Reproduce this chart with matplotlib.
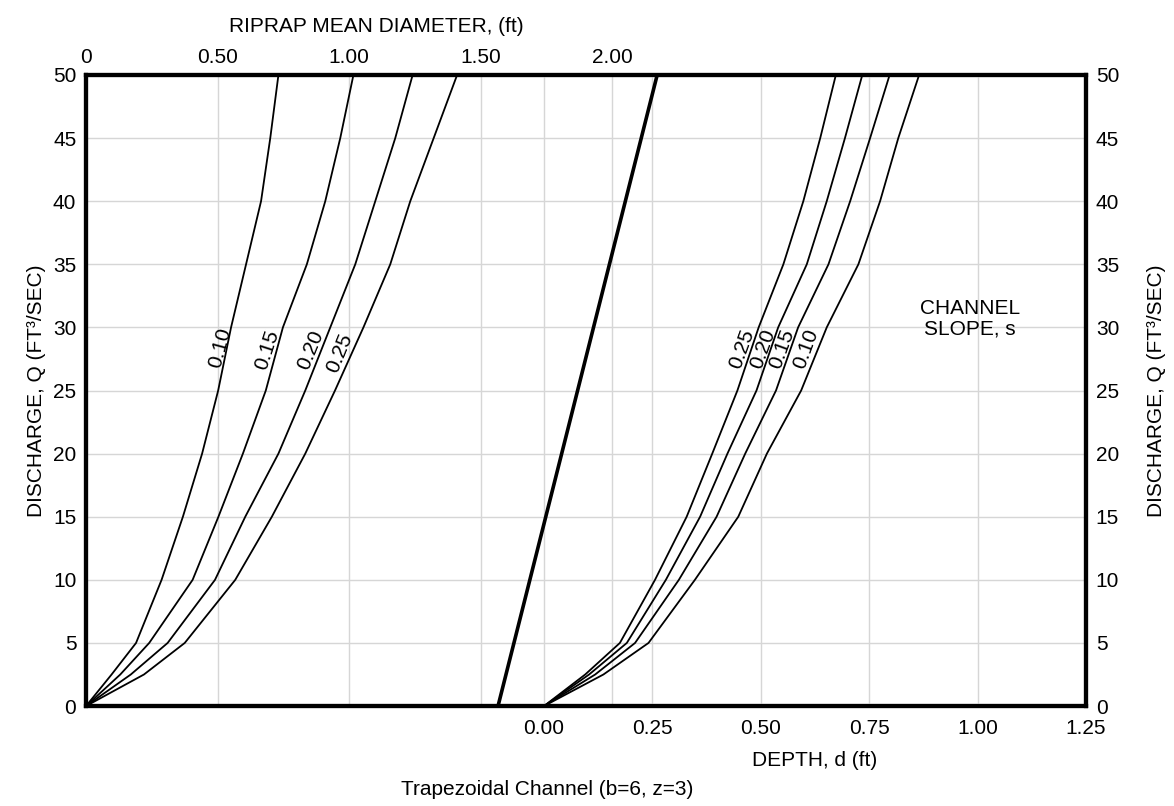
import matplotlib.pyplot as plt

plt.rcParams['font.family'] = ['Liberation Sans', 'DejaVu Sans']

# discharge levels the curves were read at (ft^3/sec)
discharge = [0, 2.5, 5, 10, 15, 20, 25, 30, 35, 40, 45, 50]

slopes = ['0.10', '0.15', '0.20', '0.25']

# riprap mean diameter (ft) for each channel slope
diam_010 = [0, 0.097, 0.19, 0.287, 0.368, 0.441, 0.502, 0.551, 0.608, 0.665, 0.700, 0.731]
diam_015 = [0, 0.13, 0.24, 0.405, 0.503, 0.596, 0.683, 0.748, 0.839, 0.909, 0.966, 1.016]
diam_020 = [0, 0.17, 0.31, 0.49, 0.605, 0.731, 0.833, 0.928, 1.023, 1.099, 1.175, 1.241]
diam_025 = [0, 0.22, 0.375, 0.567, 0.706, 0.833, 0.946, 1.054, 1.156, 1.232, 1.321, 1.41]

# flow depth (ft) for each channel slope
depth_010 = [0, 0.137, 0.241, 0.348, 0.448, 0.514, 0.593, 0.652, 0.725, 0.775, 0.817, 0.865]
depth_015 = [0, 0.118, 0.210, 0.311, 0.398, 0.464, 0.535, 0.586, 0.656, 0.706, 0.752, 0.797]
depth_020 = [0, 0.104, 0.191, 0.281, 0.360, 0.423, 0.490, 0.540, 0.606, 0.652, 0.694, 0.734]
depth_025 = [0, 0.095, 0.175, 0.256, 0.329, 0.388, 0.446, 0.495, 0.552, 0.598, 0.637, 0.673]

# turning line between the two scales (depth units)
turn_depth = [-0.106, 0.261]
turn_q = [0, 50]

diam_curves = [diam_010, diam_015, diam_020, diam_025]
depth_curves = [depth_010, depth_015, depth_020, depth_025]

# curve label spots: (x, Q, angle)
diam_labels = [(0.510, 28.4, 75), (0.688, 28.2, 72), (0.852, 28.2, 68), (0.962, 28.0, 68)]
depth_labels = [(0.604, 28.3, 70), (0.549, 28.3, 70), (0.505, 28.3, 70), (0.457, 28.3, 70)]

fig = plt.figure(figsize=(11.74, 8.06), dpi=100)
ax = fig.add_axes([0.0733, 0.124, 0.8518, 0.783])
ax.set_axisbelow(True)

grid_kw = dict(color='#d6d6d6', linewidth=1)

# depth scale (bottom) -- created first so it doesn't pull the main ticks down later
ax2 = ax.twiny()

# riprap diameter scale (top)
ax.set_xlim(0, 3.80)
ax.set_ylim(0, 50)
ax.set_xticks([0, 0.5, 1.0, 1.5, 2.0])
ax.set_xticklabels(['0', '0.50', '1.00', '1.50', '2.00'])
ax.xaxis.tick_top()
ax.xaxis.set_label_position('top')
ax.set_yticks(range(0, 51, 5))
ax.tick_params(axis='x', length=0, labelsize=15, pad=6)
ax.tick_params(axis='y', length=0, labelsize=15, pad=7, labelright=True)
ax.tick_params(axis='y', which='both', right=True)
ax.grid(True, **grid_kw)
ax.set_xlabel('RIPRAP MEAN DIAMETER, (ft)', fontsize=15)
ax.xaxis.set_label_coords(0.29, 1.068)
ax.set_ylabel('DISCHARGE, Q (FT³/SEC)', fontsize=15, labelpad=5)

for d, (lx, lq, rot), s in zip(diam_curves, diam_labels, slopes):
    ax.plot(d, discharge, color='black', linewidth=1.3)
    ax.text(lx, lq, s, rotation=rot, ha='center', va='center', fontsize=15)

ax2.set_xlim(-1.056, 1.25)
ax2.set_xticks([0, 0.25, 0.5, 0.75, 1.0, 1.25])
ax2.set_xticklabels(['0.00', '0.25', '0.50', '0.75', '1.00', '1.25'])
ax2.xaxis.tick_bottom()
ax2.xaxis.set_label_position('bottom')
ax2.tick_params(axis='x', length=0, labelsize=15, pad=9)
ax2.grid(True, axis='x', **grid_kw)
ax2.set_axisbelow(True)
ax2.set_xlabel('DEPTH, d (ft)', fontsize=15)
ax2.xaxis.set_label_coords(0.729, -0.072)

for d, (lx, lq, rot), s in zip(depth_curves, depth_labels, slopes):
    ax2.plot(d, discharge, color='black', linewidth=1.3)
    ax2.text(lx, lq, s, rotation=rot, ha='center', va='center', fontsize=15)

ax2.plot(turn_depth, turn_q, color='black', linewidth=2.6)

ax2.text(0.982, 30.7, 'CHANNEL\nSLOPE, s', ha='center', va='center',
         fontsize=15, linespacing=1.1)

for a in (ax, ax2):
    for sp in a.spines.values():
        sp.set_linewidth(3)
        sp.set_color('black')

ax.text(1.07, 0.5, 'DISCHARGE, Q (FT³/SEC)', transform=ax.transAxes,
        rotation=90, ha='center', va='center', fontsize=15)

fig.text(0.466, 0.02, 'Trapezoidal Channel (b=6, z=3)', ha='center', va='center', fontsize=15)

fig.savefig('out.png', dpi=100)
